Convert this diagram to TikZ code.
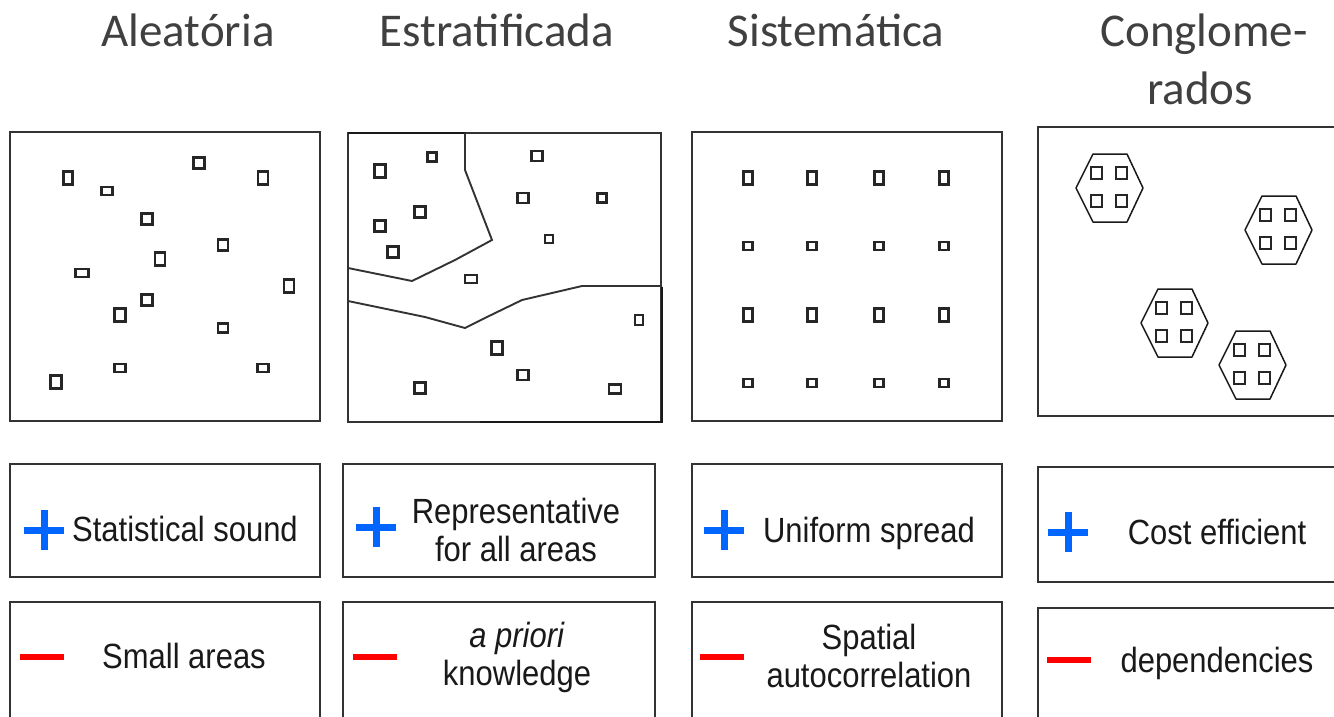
\documentclass[tikz,border=0pt]{standalone}
\usepackage{fontspec}
\setmainfont{Carlito}
\newfontfamily\boxfont[FakeStretch=0.885]{Liberation Sans}
\definecolor{plusblue}{RGB}{0,102,255}
\definecolor{minusred}{RGB}{255,0,0}
\definecolor{titlegray}{RGB}{64,64,64}

\begin{document}
\begin{tikzpicture}[x=1pt,y=-1pt,
  frame/.style={draw=black!80,line width=1.9pt},
  thickframe/.style={draw=black!90,line width=2.8pt},
  plotsq/.style={draw=black!85,line width=2.2pt},
  hexline/.style={draw=black!90,line width=1.5pt,line join=round},
  title/.style={text=titlegray,font=\fontsize{47}{58}\selectfont,inner sep=0pt,anchor=base},
  note/.style={text=black!90,font=\boxfont\fontsize{35}{38}\selectfont,align=center,inner sep=0pt},
  pro/.style={draw=plusblue,line width=7pt},
  con/.style={draw=minusred,line width=6pt}]
  \useasboundingbox (0,0) rectangle (1334,716);
  \fill[white] (0,0) rectangle (1334,716);
  \clip (0,0) rectangle (1334,716);

  % titles
  \node[title] (tAle) at (188,46) {Aleatória};
  \node[title] (tEst) at (497,46) {Estratificada};
  \node[title] (tSis) at (836,46) {Sistemática};
  \node[title] (tCon) at (1204,46) {Conglome-};
  \node[title] (tRad) at (1200,104) {rados};

  % random
  \draw[frame] (10,132) rectangle (320,421);
  \foreach \x/\y/\w/\h in {68/178/9/13,107/191/11/8,199/163/11/11,263/178/10/13,
      147/219/11/11,223/245/10/11,160/259/10/13,82/273/13/8,289/286/10/13,
      147/300/11/11,120/315/11/13,223/328/10/9,120/368/11/8,263/368/11/8,56/382/11/13}
    \draw[plotsq] ({\x-\w/2},{\y-\h/2}) rectangle ({\x+\w/2},{\y+\h/2});

  % stratified
  \draw[frame] (348,133) rectangle (661,422);
  \draw[thickframe] (348,133) -- (465,133);
  \draw[thickframe] (480,422) -- (662,422) -- (662,287);
  \draw[frame] (465,133) -- (465,170) -- (492,240) -- (455,260) -- (412,281) -- (348,268);
  \draw[frame] (348,301) -- (425,317) -- (465,328) -- (487,317) -- (522,300)
    -- (582,286) -- (662,286);
  \foreach \x/\y/\w/\h in {432/157/9/9,380/171/11/13,537/156/11/10,420/212/11/11,
      523/198/11/10,602/198/9/9,380/226/11/11,393/252/11/11,549/239/8/8,471/279/12/8,
      639/320/8/10,497/348/11/13,523/375/11/10,420/388/11/11,615/389/12/9}
    \draw[plotsq] ({\x-\w/2},{\y-\h/2}) rectangle ({\x+\w/2},{\y+\h/2});

  % systematic
  \draw[frame] (692,132) rectangle (1002,421);
  \foreach \y/\h in {178/13,246/8,315/13,383/8}
    \foreach \x in {748,812,879,944}
      \draw[plotsq] ({\x-4.5},{\y-\h/2}) rectangle ({\x+4.5},{\y+\h/2});

  % clusters
  \draw[frame] (1038,127) rectangle (1345,416);
  \foreach \hx/\hy in {1110/188,1279/230,1175/323,1253/365} {
    \draw[hexline] (\hx-17,\hy-34) -- (\hx+17,\hy-34) -- (\hx+33,\hy)
      -- (\hx+17,\hy+34) -- (\hx-17,\hy+34) -- (\hx-34,\hy) -- cycle;
    \foreach \dx/\dy in {-14/-15,11/-15,-14/13,11/13}
      \draw[plotsq,line width=2pt] ({\hx+\dx-5.5},{\hy+\dy-6}) rectangle ({\hx+\dx+5.5},{\hy+\dy+6});
  }

  % pros and cons
  \draw[frame] (10,464) rectangle (320,577);
  \draw[frame] (343,464) rectangle (655,577);
  \draw[frame] (692,464) rectangle (1002,577);
  \draw[frame] (1038,467) rectangle (1345,582);
  \draw[frame] (10,730) -- (10,602) -- (320,602) -- (320,730);
  \draw[frame] (343,730) -- (343,602) -- (655,602) -- (655,730);
  \draw[frame] (692,730) -- (692,602) -- (1002,602) -- (1002,730);
  \draw[frame] (1038,730) -- (1038,608) -- (1345,608);

  \foreach \px/\py in {44/530,376/527,724/530,1068/532}
    \draw[pro] (\px-20,\py) -- (\px+20,\py) (\px,\py-20) -- (\px,\py+20);
  \foreach \mx/\my in {42/657,375/657,722/657,1069/660}
    \draw[con] (\mx-22,\my) -- (\mx+22,\my);

  \node[note] (pAle) at (185,529) {Statistical sound};
  \node[note] (pEst) at (516,530) {Representative\\for all areas};
  \node[note] (pSis) at (869,533) {Uniform spread};
  \node[note] (pCon) at (1217,532) {Cost efficient};
  \node[note] (cAle) at (184,656) {Small areas};
  \node[note] (cEst) at (517,657) {\textit{a priori}\\knowledge};
  \node[note] (cSis) at (869,656) {Spatial\\autocorrelation};
  \node[note] (cCon) at (1217,663) {dependencies};
\end{tikzpicture}
\end{document}
